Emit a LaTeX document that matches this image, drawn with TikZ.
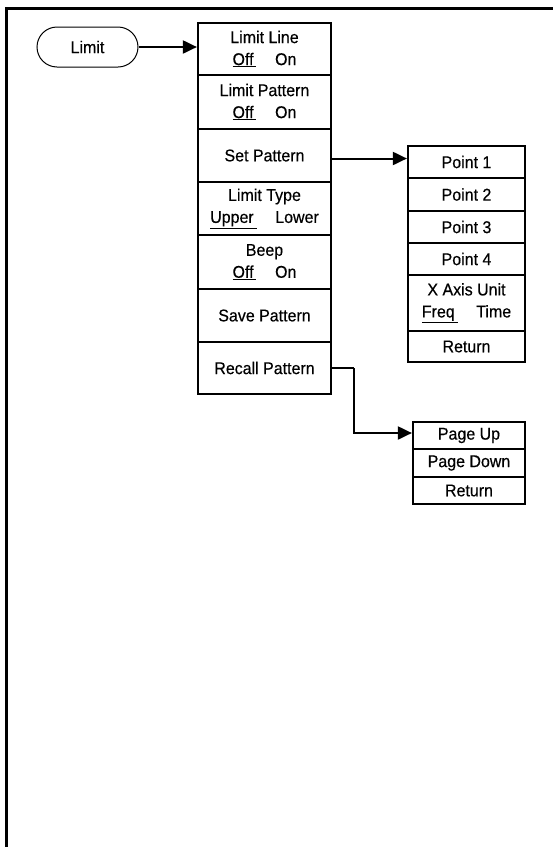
\documentclass[tikz,border=0pt]{standalone}
\usepackage{fontspec}
\setmainfont{Liberation Sans}[FakeStretch=0.94,FakeBold=0.4]
\usetikzlibrary{arrows.meta,positioning,calc}
\newcommand\myul[1]{\underline{#1\,}}
\newcommand\gapon{\hspace{1.1em}}
\tikzset{
  box/.style={draw, line width=2.2pt, rectangle, inner sep=0pt, align=center,
    font=\fontsize{17}{22}\selectfont},
  mainbox/.style={box, minimum width=133pt},
  subbox/.style={box, minimum width=117pt},
  pagebox/.style={box, minimum width=112pt},
  pill/.style={draw, line width=1pt, rounded corners=20pt, minimum width=101pt,
    minimum height=40pt, inner sep=0pt, font=\fontsize{17}{22}\selectfont},
  conn/.style={line width=2pt, -{Triangle[length=14pt,width=13pt]}},
  plain/.style={line width=2pt}
}
\begin{document}
\begin{tikzpicture}[x=1pt,y=-1pt]
\useasboundingbox (0,0) rectangle (553,847);
% frame
\draw[line width=3pt] (553,8.5) -- (6.5,8.5) -- (6.5,847);

% Limit key
\node[pill] (limit) at (87.5,47) {Limit};

% main menu
\node[mainbox, minimum height=52pt] (ll) at (264.5,49) {Limit Line\\\myul{Off}\gapon On};
\node[mainbox, minimum height=54pt] (lp) at (264.5,102) {Limit Pattern\\\myul{Off}\gapon On};
\node[mainbox, minimum height=53pt] (sp) at (264.5,155.5) {Set Pattern};
\node[mainbox, minimum height=53pt] (lt) at (264.5,208.5) {Limit Type\\\myul{Upper}\gapon Lower};
\node[mainbox, minimum height=54pt] (bp) at (264.5,262) {Beep\\\myul{Off}\gapon On};
\node[mainbox, minimum height=53pt] (sv) at (264.5,315.5) {Save Pattern};
\node[mainbox, minimum height=52pt] (rp) at (264.5,368) {Recall Pattern};

% set pattern submenu
\node[subbox, minimum height=32pt] (p1) at (466.5,162) {Point 1};
\node[subbox, minimum height=33pt] (p2) at (466.5,194.5) {Point 2};
\node[subbox, minimum height=32pt] (p3) at (466.5,227) {Point 3};
\node[subbox, minimum height=32pt] (p4) at (466.5,259) {Point 4};
\node[subbox, minimum height=56pt] (xu) at (466.5,303) {X Axis Unit\\\myul{Freq}\gapon Time};
\node[subbox, minimum height=31pt] (r1) at (466.5,346.5) {Return};

% recall pattern submenu
\node[pagebox, minimum height=27pt] (pu) at (469,435.5) {Page Up};
\node[pagebox, minimum height=28pt] (pd) at (469,463) {Page Down};
\node[pagebox, minimum height=27pt] (r2) at (469,490.5) {Return};

% connectors
\draw[conn] (limit.east) -- (limit.east -| ll.west);
\draw[conn] ([yshift=-3pt]sp.east) -- ([yshift=-3pt]sp.east -| p1.west);
\coordinate (bend) at ($(rp.east)+(22,0)$);
\draw[plain] (rp.east) -- (bend);
\draw[conn] (bend) |- ([yshift=2.5pt]pu.west);
\end{tikzpicture}
\end{document}
